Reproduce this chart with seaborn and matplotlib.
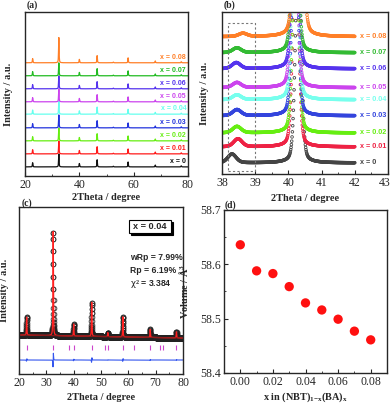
import numpy as np
import pandas as pd
import matplotlib
matplotlib.use("Agg")
import matplotlib.pyplot as plt
import matplotlib.transforms as mtransforms
from matplotlib.ticker import AutoMinorLocator, MultipleLocator
import seaborn as sns

# ---- shared composition data ----
comps = [0.0, 0.01, 0.02, 0.03, 0.04, 0.05, 0.06, 0.07, 0.08]
comp_labels = ["x = 0", "x = 0.01", "x = 0.02", "x = 0.03", "x = 0.04",
               "x = 0.05", "x = 0.06", "x = 0.07", "x = 0.08"]
comp_colors = ["#111111", "#ff1a1a", "#66ee11", "#2233dd", "#66ffee",
               "#cc44ee", "#5533ee", "#22bb22", "#ff7f27"]
comp_colors_b = ["#444444", "#ee2244", "#66ee11", "#3344dd", "#77ffee",
                 "#cc44ee", "#5533ee", "#33bb33", "#ff7f27"]

# ---- (a) full XRD patterns ----
peak_pos_a = [22.8, 32.45, 40.0, 46.55, 52.5, 57.95, 67.95, 77.5]
peak_rel_a = [0.32, 1.0, 0.26, 0.55, 0.05, 0.38, 0.14, 0.08]
main_height_a = [1.0, 1.0, 1.0, 1.0, 1.0, 1.0, 1.0, 1.0, 1.95]
offsets_a = [0.7, 1.7, 2.7, 3.7, 4.75, 5.7, 6.7, 7.7, 8.7]

# ---- (b) zoom 38-42 deg ----
offsets_b = [0.69, 1.69, 2.56, 3.63, 4.63, 5.38, 6.56, 7.56, 8.56]
bump_pos_b = [38.3, 38.48, 38.45, 38.45, 38.45, 38.45, 38.43, 38.45, 38.63]
bump_h_b = [0.55, 0.5, 0.4, 0.38, 0.3, 0.32, 0.38, 0.3, 0.2]
main_pos_b = [40.3, 40.22, 40.22, 40.2, 40.2, 40.18, 40.2, 40.2, 40.3]
main_w_b = [0.2, 0.2, 0.2, 0.2, 0.2, 0.2, 0.2, 0.2, 0.26]
main_h_b = [14, 14, 14, 14, 14, 14, 14, 14, 14]

# ---- (c) refinement x = 0.04 ----
peak_pos_c = [22.8, 32.5, 40.0, 46.6, 52.5, 58.0, 68.0, 77.6]
peak_h_c = [18, 104, 12, 34, 4, 20, 8, 6]
bg_x_c = [20, 80]
bg_y_c = [39, 36]
bragg_c = [22.8, 32.5, 38.3, 40.0, 46.6, 51.3, 52.6, 58.2, 62.0, 68.1,
           71.6, 72.7, 77.6]
diff_level_c = 14

# ---- (d) cell volume ----
vol_x = [0.00, 0.01, 0.02, 0.03, 0.04, 0.05, 0.06, 0.07, 0.08]
vol_y = [58.636, 58.588, 58.583, 58.559, 58.529, 58.516, 58.499, 58.477, 58.461]


def profile(tt, pos, heights, fwhm, eta=0.6):
    y = np.zeros_like(tt)
    for p, h in zip(pos, heights):
        d = (tt - p) / (fwhm / 2)
        y += h * (eta / (1 + d ** 2) + (1 - eta) * np.exp(-np.log(2) * d ** 2))
    return y


sns.set_style("ticks")
plt.rcParams['font.family'] = ['Liberation Serif', 'DejaVu Serif']
plt.rcParams['axes.labelweight'] = 'bold'
plt.rcParams['xtick.direction'] = 'in'
plt.rcParams['ytick.direction'] = 'in'
plt.rcParams['axes.linewidth'] = 1.0
plt.rcParams['mathtext.fontset'] = 'custom'
plt.rcParams['mathtext.rm'] = 'Liberation Serif:bold'
plt.rcParams['mathtext.it'] = 'Liberation Serif:bold:italic'
plt.rcParams['mathtext.bf'] = 'Liberation Serif:bold'
plt.rcParams['mathtext.default'] = 'rm'

W, H = 392, 403
fig = plt.figure(figsize=(W / 100, H / 100), dpi=100)


def px_axes(l, t, r, b):
    return fig.add_axes([l / W, 1 - b / H, (r - l) / W, (b - t) / H])


ax_a = px_axes(25, 12, 188, 176)
ax_b = px_axes(222, 12, 388, 174)
ax_c = px_axes(19, 207, 183, 374)
ax_d = px_axes(224, 210, 387, 373)

tick_fs = 8.5
lab_fs = 7.4
sans = ['Liberation Sans', 'DejaVu Sans']

# ---------------- (a) ----------------
tt_a = np.arange(20, 80.001, 0.02)
rows = []
for i, lab in enumerate(comp_labels):
    hts = [r * main_height_a[i] if k == 1 else r for k, r in enumerate(peak_rel_a)]
    inten = offsets_a[i] + profile(tt_a, peak_pos_a, hts, 0.22)
    rows.append(pd.DataFrame({"tt": tt_a, "I": inten, "comp": lab}))
df_a = pd.concat(rows)
sns.lineplot(data=df_a, x="tt", y="I", hue="comp", hue_order=comp_labels,
             palette=dict(zip(comp_labels, comp_colors)), estimator=None,
             legend=False, lw=0.9, ax=ax_a)
for i, lab in enumerate(comp_labels):
    ax_a.text(79.3, offsets_a[i] + 0.15, lab, color=comp_colors[i], ha="right",
              va="bottom", fontsize=5, fontweight="bold", family=sans)
ax_a.set_xlim(20, 80)
ax_a.set_ylim(0, 12.6)
ax_a.set_yticks([])
ax_a.xaxis.set_major_locator(MultipleLocator(20))
ax_a.xaxis.set_minor_locator(AutoMinorLocator(2))

# ---------------- (b) ----------------
tt_b = np.arange(38.0, 42.001, 0.01)
for i, lab in enumerate(comp_labels):
    inten = (offsets_b[i]
             + profile(tt_b, [bump_pos_b[i]], [bump_h_b[i]], 0.3, eta=0.3)
             + profile(tt_b, [main_pos_b[i]], [main_h_b[i]], main_w_b[i],
                       eta=0.25))
    df_b = pd.DataFrame({"tt": tt_b, "I": inten})
    sns.scatterplot(data=df_b, x="tt", y="I", marker="o", s=3.5,
                    facecolors="none", edgecolors=comp_colors_b[i],
                    linewidths=0.6, legend=False, ax=ax_b)
    ax_b.text(42.17, offsets_b[i], lab, color=comp_colors_b[i], ha="left",
              va="center", fontsize=5.2, fontweight="bold", family=sans)
ax_b.add_patch(plt.Rectangle((38.18, 0.2), 0.82, 9.2, fill=False,
                             ec="#777777", ls=(0, (2, 2)), lw=0.8))
ax_b.set_xlim(38, 43)
ax_b.set_ylim(0, 10.1)
ax_b.set_yticks([])
ax_b.xaxis.set_major_locator(MultipleLocator(1))
ax_b.xaxis.set_minor_locator(AutoMinorLocator(2))

# ---------------- (c) ----------------
tt_c = np.arange(20, 80.001, 0.02)
bg_c = np.interp(tt_c, bg_x_c, bg_y_c)
calc_c = bg_c + profile(tt_c, peak_pos_c, peak_h_c, 0.2)
obs_c = bg_c + profile(tt_c, [p + 0.01 for p in peak_pos_c], peak_h_c, 0.2)
diff_c = diff_level_c + (obs_c - calc_c)
df_c = pd.DataFrame({"tt": tt_c, "obs": obs_c, "calc": calc_c,
                     "bg": bg_c, "diff": diff_c})
ax_c.plot(df_c["tt"], df_c["obs"], ls="none", marker="o", ms=3.5,
          mfc="none", mec="#222222", mew=0.5)
sns.lineplot(data=df_c, x="tt", y="calc", color="#ff2020", lw=0.9,
             estimator=None, ax=ax_c)
sns.lineplot(data=df_c, x="tt", y="bg", color="#8b1a1a", lw=0.8,
             estimator=None, ax=ax_c)
sns.lineplot(data=df_c, x="tt", y="diff", color="#3355ee", lw=0.8,
             estimator=None, ax=ax_c)
ax_c.vlines(bragg_c, 24, 29, color="#cc44cc", lw=0.8)

# boxed "x = 0.04" with a drop shadow
bw, bh = 42 / 164, 13 / 167
bx, by = 0.80 - bw / 2, 0.883 - bh / 2
ax_c.add_patch(plt.Rectangle((bx + 1.5 / 164, by - 1.5 / 167), bw, bh,
                             transform=ax_c.transAxes, fc="black", ec="black",
                             lw=0.8, zorder=5))
ax_c.add_patch(plt.Rectangle((bx, by), bw, bh, transform=ax_c.transAxes,
                             fc="white", ec="black", lw=0.8, zorder=6))
ax_c.text(0.80, 0.883, "x = 0.04", transform=ax_c.transAxes, ha="center",
          va="center", fontsize=6.6, fontweight="bold", family=sans, zorder=7)
stats_c = ["wRp = 7.99%", "Rp = 6.19%", r"$\mathsf{\chi}^{2}$ = 3.384"]
stats_y = [0.695, 0.617, 0.533]
for s, yy in zip(stats_c, stats_y):
    ax_c.text(0.675, yy, s, transform=ax_c.transAxes, ha="left", va="center",
              fontsize=6.2, fontweight="bold", family=sans)
ax_c.set_xlim(20, 80)
ax_c.set_ylim(0, 167)
ax_c.set_yticks([])
ax_c.xaxis.set_major_locator(MultipleLocator(10))
ax_c.xaxis.set_minor_locator(AutoMinorLocator(2))

# ---------------- (d) ----------------
sns.scatterplot(x=vol_x, y=vol_y, color="#ff1010", s=45, edgecolor="none",
                ax=ax_d)
ax_d.set_xlim(-0.01, 0.09)
ax_d.set_ylim(58.4, 58.7)
ax_d.xaxis.set_major_locator(MultipleLocator(0.02))
ax_d.xaxis.set_minor_locator(AutoMinorLocator(2))
ax_d.yaxis.set_major_locator(MultipleLocator(0.1))
ax_d.yaxis.set_minor_locator(AutoMinorLocator(2))
ax_d.set_xticks([0.0, 0.02, 0.04, 0.06, 0.08])
ax_d.set_xticklabels(["0.00", "0.02", "0.04", "0.06", "0.08"])

# ---------------- labels & ticks ----------------
for ax in (ax_a, ax_b, ax_c, ax_d):
    ax.tick_params(axis="both", which="major", labelsize=tick_fs, length=3,
                   width=0.8, pad=2, top=False, right=False)
    ax.tick_params(axis="both", which="minor", length=1.5, width=0.6,
                   top=False, right=False)
    for sp in ax.spines.values():
        sp.set_visible(True)
        sp.set_linewidth(1.0)

# keep the "43" label inside the canvas
ax_b.set_xticks([38, 39, 40, 41, 42, 43])
ax_b.set_xticklabels(["38", "39", "40", "41", "42", "43"])
last = ax_b.get_xticklabels()[-1]
last.set_transform(last.get_transform()
                   + mtransforms.ScaledTranslation(-3 / 100, 0, fig.dpi_scale_trans))

ax_a.set_xlabel("2Theta / degree", fontsize=lab_fs)
ax_a.set_ylabel("Intensity / a.u.", fontsize=lab_fs)
ax_b.set_xlabel("2Theta / degree", fontsize=lab_fs)
ax_b.set_ylabel("Intensity / a.u.", fontsize=lab_fs)
ax_c.set_xlabel("2Theta / degree", fontsize=lab_fs)
ax_c.set_ylabel("Intensity / a.u.", fontsize=lab_fs)
ax_d.set_xlabel(r"$x$ in (NBT)$_{1\mathrm{-}x}$(BA)$_{x}$", fontsize=lab_fs)
ax_d.set_ylabel(r"Volume / $\mathrm{\AA}^{3}$", fontsize=lab_fs)

ax_a.xaxis.set_label_coords(0.5, -0.105)
ax_b.xaxis.set_label_coords(0.5, -0.123)
ax_c.xaxis.set_label_coords(0.5, -0.112)
ax_d.xaxis.set_label_coords(0.5, -0.105)
ax_a.yaxis.set_label_coords(-0.075, 0.5)
ax_b.yaxis.set_label_coords(-0.078, 0.5)
ax_c.yaxis.set_label_coords(-0.062, 0.5)
ax_d.yaxis.set_label_coords(-0.21, 0.5)

for txt, xp, yp in [("(a)", 27, 5), ("(b)", 224, 5), ("(c)", 22, 203),
                    ("(d)", 225, 205)]:
    fig.text(xp / W, 1 - yp / H, txt, ha="left", va="center", fontsize=7,
             fontweight="bold")

fig.savefig("out.png", dpi=100)
